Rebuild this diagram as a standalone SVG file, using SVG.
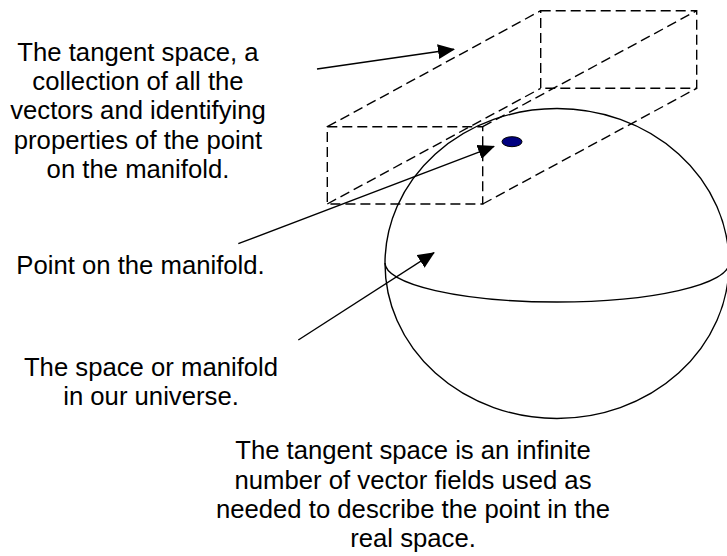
<svg xmlns="http://www.w3.org/2000/svg" width="727" height="556" viewBox="0 0 727 556">
<defs>
<style>
.lbl{font-family:"Liberation Sans",Arial,sans-serif;font-size:25.7px;fill:#000;text-anchor:middle}
.dash{fill:none;stroke:#000;stroke-width:1.4;stroke-dasharray:10 5}
.solid{fill:none;stroke:#000;stroke-width:1.4}
.arrow{fill:none;stroke:#000;stroke-width:1.4;marker-end:url(#ah)}
</style>
<marker id="ah" viewBox="0 0 17 15" refX="16" refY="7.5" markerWidth="17" markerHeight="15" markerUnits="userSpaceOnUse" orient="auto">
<path d="M0,0 L17,7.5 L0,15 Z" fill="#000"/>
</marker>
</defs>
<rect width="727" height="556" fill="#fff"/>
<g id="manifold">
<ellipse class="solid" cx="557" cy="263.5" rx="172" ry="155"/>
<path class="solid" d="M385,263 A172,39 0 0 0 729,263"/>
</g>
<g id="tangent-space">
<rect class="dash" x="327.3" y="126.7" width="155.4" height="77.3"/>
<rect class="dash" x="540.7" y="10.7" width="156" height="77.6"/>
<line class="dash" x1="327.3" y1="126.7" x2="540.7" y2="10.7"/>
<line class="dash" x1="482.7" y1="126.7" x2="696.7" y2="10.7"/>
<line class="dash" x1="482.7" y1="204" x2="696.7" y2="88.3"/>
<line class="dash" x1="327.3" y1="204" x2="540.7" y2="88.3"/>
</g>
<g id="point">
<ellipse cx="512" cy="141.7" rx="10" ry="5" fill="#000080" stroke="#000" stroke-width="1"/>
</g>
<g id="connectors">
<line class="arrow" x1="317" y1="69" x2="454" y2="49.3"/>
<line class="arrow" x1="238.3" y1="243.7" x2="494" y2="146.3"/>
<line class="arrow" x1="298.3" y1="340" x2="434" y2="252.7"/>
</g>
<g id="label-tangent">
<text class="lbl" x="138" y="61">The tangent space, a</text>
<text class="lbl" x="138" y="90.2">collection of all the</text>
<text class="lbl" x="138" y="119.4">vectors and identifying</text>
<text class="lbl" x="138" y="148.6">properties of the point</text>
<text class="lbl" x="138" y="177.8">on the manifold.</text>
</g>
<g id="label-point">
<text class="lbl" x="140.5" y="274">Point on the manifold.</text>
</g>
<g id="label-space">
<text class="lbl" x="151" y="375.5">The space or manifold</text>
<text class="lbl" x="151" y="404.7">in our universe.</text>
</g>
<g id="label-bottom">
<text class="lbl" x="413" y="459.3">The tangent space is an infinite</text>
<text class="lbl" x="413" y="488.5">number of vector fields used as</text>
<text class="lbl" x="413" y="517.7">needed to describe the point in the</text>
<text class="lbl" x="413" y="546.9">real space.</text>
</g>
</svg>
